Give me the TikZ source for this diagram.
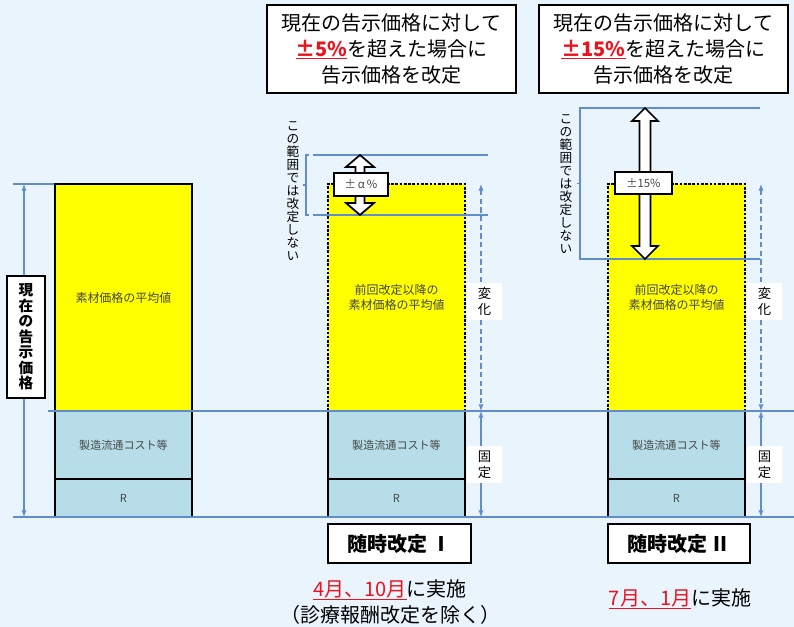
\documentclass[tikz,border=0pt]{standalone}
\usepackage{fontspec}
\setmainfont{Noto Sans CJK JP}
\usetikzlibrary{arrows.meta}
\definecolor{bgc}{RGB}{234,244,253}
\definecolor{lblue}{RGB}{98,141,204}
\definecolor{barblue}{RGB}{183,222,232}
\definecolor{byellow}{RGB}{255,255,0}
\definecolor{tgray}{RGB}{70,70,70}
\definecolor{jred}{RGB}{235,20,30}
\begin{document}
\begin{tikzpicture}[x=0.75pt,y=-0.75pt,
  bar/.style={draw=black,line width=0.8pt,inner sep=0pt,outer sep=0pt,text=tgray,align=center},
  hline/.style={draw=lblue,line width=1pt},
  dimarrow/.style={draw=lblue,line width=0.9pt,{Latex[length=5pt,width=4pt]}-{Latex[length=5pt,width=4pt]}},
  vlabel/.style={fill=white,inner sep=0pt,minimum width=26pt,minimum height=28pt,align=center,font=\fontsize{10}{12}\selectfont},
  topbox/.style={draw=black,fill=white,line width=0.8pt,minimum width=186.75pt,minimum height=66pt,align=center,inner sep=0pt,font=\fontsize{15}{19.5}\selectfont},
  botbox/.style={draw=black,fill=white,line width=0.8pt,minimum height=29.25pt,inner sep=0pt,font=\fontsize{15}{18}\selectfont\bfseries},
  pctbox/.style={draw=black,fill=white,line width=1.2pt,inner sep=0pt,text=tgray,font=\fontsize{8.5}{10}\selectfont},
  blockarrow/.style={draw=black,fill=white,line width=1.3pt,line join=miter},
  vtext/.style={align=center,inner sep=0pt,font=\fontsize{9.5}{9.75}\selectfont}]
\fill[bgc] (0,0) rectangle (794,627);
\useasboundingbox (0,0) rectangle (794,627);

% top reference line (left)
\coordinate (t0) at (13,184);
\coordinate (t1) at (192,184);
\draw[hline] (t0) -- (t1);

% left bar
\node[bar,fill=byellow,minimum width=102.75pt,minimum height=170.25pt,font=\fontsize{9}{11}\selectfont] (ly) at (123.5,297.5) {素材価格の平均値};
\node[bar,fill=barblue,minimum width=102.75pt,minimum height=51pt,font=\fontsize{8.3}{10}\selectfont] (lc) at (123.5,445) {製造流通コスト等};
\node[bar,fill=barblue,minimum width=102.75pt,minimum height=28.5pt,font=\fontsize{8.3}{10}\selectfont] (lr) at (123.5,498) {R};

% middle bar
\node[bar,fill=byellow,draw=none,minimum width=102.75pt,minimum height=170.25pt,font=\fontsize{9}{11.5}\selectfont] (my) at (396.5,297.5) {前回改定以降の\\素材価格の平均値};
\draw[black,line width=0.8pt,dashed,dash pattern=on 2pt off 1.2pt] (my.south west) -- (my.north west) -- (my.north east) -- (my.south east);
\node[bar,fill=barblue,minimum width=102.75pt,minimum height=51pt,font=\fontsize{8.3}{10}\selectfont] (mc) at (396.5,445) {製造流通コスト等};
\node[bar,fill=barblue,minimum width=102.75pt,minimum height=28.5pt,font=\fontsize{8.3}{10}\selectfont] (mr) at (396.5,498) {R};

% right bar
\node[bar,fill=byellow,draw=none,minimum width=102.75pt,minimum height=170.25pt,font=\fontsize{9}{11.5}\selectfont] (ry) at (676.5,297.5) {前回改定以降の\\素材価格の平均値};
\draw[black,line width=0.8pt,dashed,dash pattern=on 2pt off 1.2pt] (ry.south west) -- (ry.north west) -- (ry.north east) -- (ry.south east);
\node[bar,fill=barblue,minimum width=102.75pt,minimum height=51pt,font=\fontsize{8.3}{10}\selectfont] (rc) at (676.5,445) {製造流通コスト等};
\node[bar,fill=barblue,minimum width=102.75pt,minimum height=28.5pt,font=\fontsize{8.3}{10}\selectfont] (rr) at (676.5,498) {R};

% horizontal reference lines
\coordinate (m0) at (48,411);
\coordinate (m1) at (794,411);
\draw[hline] (m0) -- (m1);
\coordinate (b0) at (13,517);
\coordinate (b1) at (794,517);
\draw[hline] (b0) -- (b1);

% range lines middle
\coordinate (ma0) at (313,155); \coordinate (ma1) at (488,155);
\coordinate (mb0) at (313,215); \coordinate (mb1) at (488,215);
\draw[hline] (ma0) -- (ma1);
\draw[hline] (mb0) -- (mb1);
\draw[lblue,line width=0.8pt] (309,155) -- (306,155) -- (306,215) -- (309,215) (306,185) -- (303,185);

% range lines right
\coordinate (ra0) at (583,108); \coordinate (ra1) at (760,108);
\coordinate (rb0) at (583,259); \coordinate (rb1) at (760,259);
\draw[hline] (ra0) -- (ra1);
\draw[hline] (rb0) -- (rb1);
\draw[lblue,line width=0.8pt] (586,108) -- (580,108) -- (580,259) -- (586,259) (580,183.5) -- (577,183.5);

% dimension arrows
\coordinate (la) at (24,184); \coordinate (lb) at (24,517);
\draw[dimarrow] (la) -- (lb);
\coordinate (mda) at (481,184); \coordinate (mdb) at (481,411); \coordinate (mdc) at (481,517);
\draw[dimarrow,dashed,dash pattern=on 4pt off 2.5pt] (mda) -- (mdb);
\draw[dimarrow] (mdb) -- (mdc);
\coordinate (rda) at (761,184); \coordinate (rdb) at (761,411); \coordinate (rdc) at (761,517);
\draw[dimarrow,dashed,dash pattern=on 4pt off 2.5pt] (rda) -- (rdb);
\draw[dimarrow] (rdb) -- (rdc);

% dimension labels
\node[draw=black,fill=white,line width=0.8pt,inner sep=0pt,minimum width=28.5pt,minimum height=91.5pt,align=center,font=\fontsize{11}{11.6}\selectfont\bfseries] (lprice) at (26,337) {現\\在\\の\\告\\示\\価\\格};
\node[vlabel] (mchg) at (484.5,301.5) {変\\化};
\node[vlabel] (mfix) at (484.5,464.5) {固\\定};
\node[vlabel] (rchg) at (764.5,301.5) {変\\化};
\node[vlabel] (rfix) at (764.5,464.5) {固\\定};

% block double arrows
\draw[blockarrow] (360,155) -- (374,167) -- (364.5,167) -- (364.5,203) -- (374,203) -- (360,215) -- (346,203) -- (355.5,203) -- (355.5,167) -- (346,167) -- cycle;
\draw[blockarrow] (645,108) -- (658,121) -- (650.5,121) -- (650.5,246) -- (658,246) -- (645,259) -- (632,246) -- (639.5,246) -- (639.5,121) -- (632,121) -- cycle;
\node[pctbox,minimum width=40.5pt,minimum height=17pt] (alpha) at (361,184.5) {±\,α\,\%};
\node[pctbox,minimum width=42.75pt,minimum height=16.5pt] (p15) at (643.5,183) {±15\%};

% vertical texts
\node[vtext] (mvt) at (293,191.5) {こ\\の\\範\\囲\\で\\は\\改\\定\\し\\な\\い};
\node[vtext] (rvt) at (566,184) {こ\\の\\範\\囲\\で\\は\\改\\定\\し\\な\\い};

% top boxes
\node[topbox] (mtop) at (391.5,49) {現在の告示価格に対して\\\textcolor{jred}{\bfseries\underline{±5\%}}を超えた場合に\\告示価格を改定};
\node[topbox] (rtop) at (663.5,49) {現在の告示価格に対して\\\textcolor{jred}{\bfseries\underline{±15\%}}を超えた場合に\\告示価格を改定};

% bottom boxes
\node[botbox,minimum width=107.25pt] (mbot) at (399.5,543.5) {随時改定\,Ⅰ};
\node[botbox,minimum width=106.5pt] (rbot) at (679,543.5) {随時改定\,Ⅱ};

\node[inner sep=0pt,font=\fontsize{15}{18}\selectfont] (mdate) at (390,590) {\textcolor{jred}{\underline{4月、10月}}に実施};
\node[inner sep=0pt,font=\fontsize{15}{18}\selectfont] (mnote) at (390,615) {（診療報酬改定を除く）};
\node[inner sep=0pt,font=\fontsize{15}{18}\selectfont] (rdate) at (680,599) {\textcolor{jred}{\underline{7月、1月}}に実施};
\end{tikzpicture}
\end{document}
